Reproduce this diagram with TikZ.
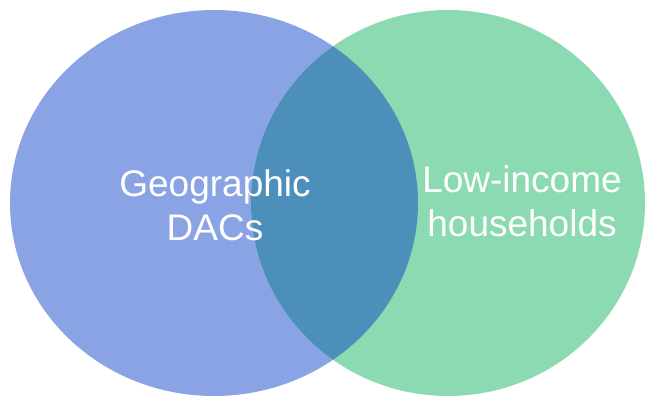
\documentclass[tikz,border=0pt]{standalone}
\usepackage{fontspec}
\setmainfont{Liberation Sans}
\usetikzlibrary{shapes.geometric}
\definecolor{vennblue}{RGB}{138, 163, 229}
\definecolor{venngreen}{RGB}{140, 218, 178}
\definecolor{vennmix}{RGB}{76, 143, 186}

\begin{document}
\begin{tikzpicture}[x = 1pt, y = -1pt,
		setlabel/.style = {text = white, align = center, font = \fontsize{37}{44}\selectfont}]
			\useasboundingbox (0,0) rectangle (646,397);
			\node (geo) at (214,203) [ellipse, fill = vennblue, inner sep = 0, minimum width = 408pt, minimum height = 386pt] {};
			\node (low) at (448,203) [ellipse, fill = venngreen, inner sep = 0, minimum width = 394pt, minimum height = 386pt] {};
			\begin{scope}
				\clip (214,203) ellipse (204 and 193);
				\fill[vennmix] (448,203) ellipse (197 and 193);
			\end{scope}
			\node (geotext) at (215,205) [setlabel] {Geographic\\DACs};
			\node (lowtext) at (522,201) [setlabel] {Low-income\\households};
			\end{tikzpicture}
\end{document}
